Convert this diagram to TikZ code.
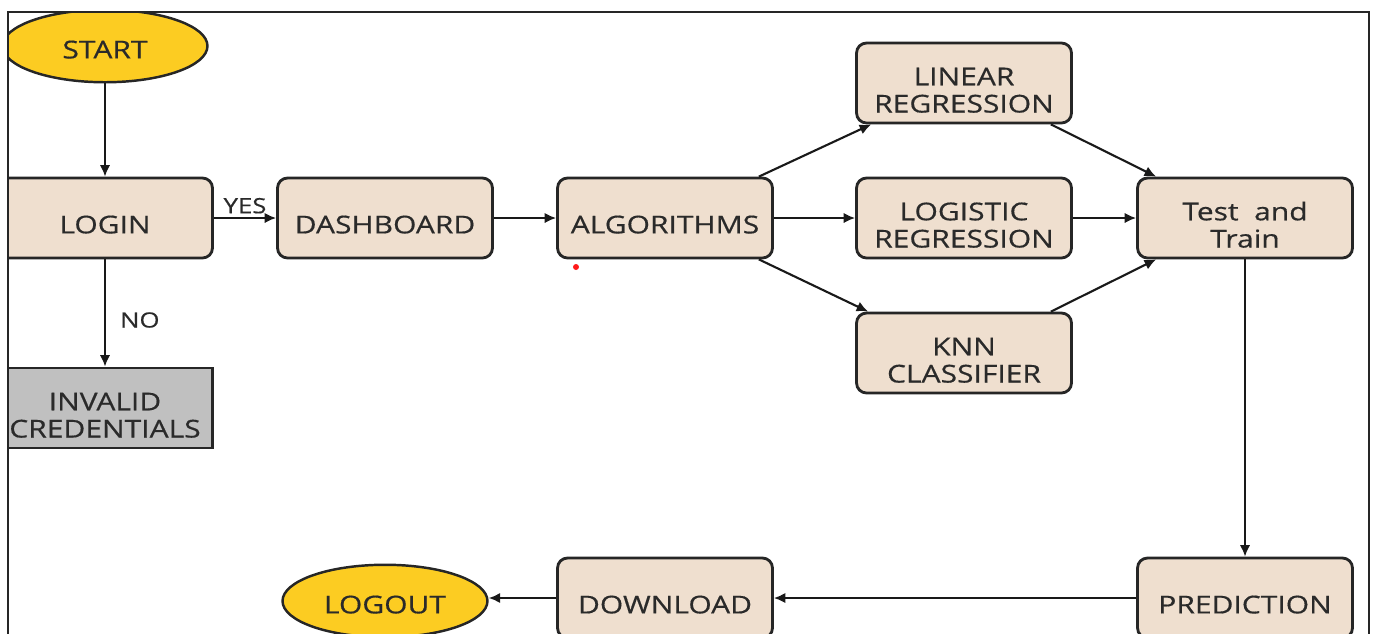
\documentclass[tikz,border=0pt]{standalone}
\usepackage{fontspec}
\setmainfont{Open Sans}[FakeStretch=1.22, FakeBold=0.5]
\usetikzlibrary{arrows.meta}
\usetikzlibrary{shapes.geometric}
\usetikzlibrary{positioning}
\definecolor{BoxBeige}{HTML}{EFDFCF}
\definecolor{TermYellow}{HTML}{FCCC22}
\definecolor{ErrGray}{HTML}{C0C0C0}
\definecolor{InkGray}{HTML}{2A2A2A}
% two lines of box text, set a little below the middle like the single ones
\newcommand{\twoline}[2]{\begin{tabular}{@{}c@{}}\rule{0pt}{0.8cm}#1\\#2\end{tabular}}
\tikzset{
  stepbox/.style={rectangle, rounded corners=0.2cm, draw=black!85, line width=1.6pt,
    fill=BoxBeige, minimum width=4.3cm, minimum height=1.6cm, inner sep=0pt,
    text=InkGray, font=\fontsize{14}{15.5}\selectfont,
    execute at begin node={\rule{0pt}{0.62cm}}},
  errbox/.style={stepbox, sharp corners, fill=ErrGray},
  termnode/.style={ellipse, draw=black!85, line width=1.4pt, fill=TermYellow,
    minimum width=4.1cm, minimum height=1.45cm, inner sep=0pt,
    text=InkGray, font=\fontsize{14}{15.5}\selectfont,
    execute at begin node={\rule{0pt}{0.5cm}}},
  flow/.style={-{Latex[length=2.3mm,width=2.1mm]}, line width=1.2pt, black!90},
  branch/.style={font=\fontsize{12}{13}\selectfont, text=InkGray, inner sep=1pt}
}

\begin{document}
\begin{tikzpicture}[x=0.02cm, y=-0.02cm]

  \useasboundingbox (0,0) rectangle (1375,633);

  \begin{scope}
    \clip (8,12) rectangle (1369,650); % the screenshot cuts the shapes at its frame

    % setup the nodes
    \node[termnode] (start)      at (105,46)  {START};
    \node[stepbox]  (login)      at (105,218) {LOGIN};
    \node[errbox]   (invalid)    at (105,408) {\twoline{INVALID}{CREDENTIALS}};
    \node[stepbox]  (dashboard)  at (385,218) {DASHBOARD};
    \node[stepbox]  (algorithms) at (665,218) {ALGORITHMS};
    \node[stepbox]  (linear)     at (964,83)  {\twoline{LINEAR}{REGRESSION}};
    \node[stepbox]  (logistic)   at (964,218) {\twoline{LOGISTIC}{REGRESSION}};
    \node[stepbox]  (knn)        at (964,353) {\twoline{KNN}{CLASSIFIER}};
    \node[stepbox]  (testtrain)  at (1245,218) {\twoline{Test\ \ and}{Train}};
    \node[stepbox]  (prediction) at (1245,598) {PREDICTION};
    \node[stepbox]  (download)   at (665,598) {DOWNLOAD};
    \node[termnode] (logout)     at (385,601) {LOGOUT};

    % stray mark of the screenshot
    \fill[red!90] (576,267) circle (0.06cm);

    % connectors
    \draw[flow] (start) -- (login);
    \draw[flow] (login) -- node[branch, right=7pt, yshift=-0.14cm] {NO} (invalid);
    \draw[flow] (login) -- node[branch, above=1pt] {YES} (dashboard);
    \draw[flow] (dashboard) -- (algorithms);
    \draw[flow] ([xshift=-0.3cm]algorithms.north east) -- ([xshift=0.32cm]linear.south west);
    \draw[flow] (algorithms) -- (logistic);
    \draw[flow] ([xshift=-0.3cm]algorithms.south east) -- ([xshift=0.26cm]knn.north west);
    \draw[flow] ([xshift=-0.44cm]linear.south east) -- ([xshift=0.4cm]testtrain.north west);
    \draw[flow] (logistic) -- (testtrain);
    \draw[flow] ([xshift=-0.44cm]knn.north east) -- ([xshift=0.4cm]testtrain.south west);
    \draw[flow] (testtrain) -- (prediction);
    \draw[flow] (prediction) -- (download);
    \draw[flow] (download.west) -- (download.west -| logout.east);
  \end{scope}

  % frame of the screenshot
  \draw[line width=1.1pt, black!85] (8,650) -- (8,12) -- (1369,12) -- (1369,650);

\end{tikzpicture}
\end{document}
